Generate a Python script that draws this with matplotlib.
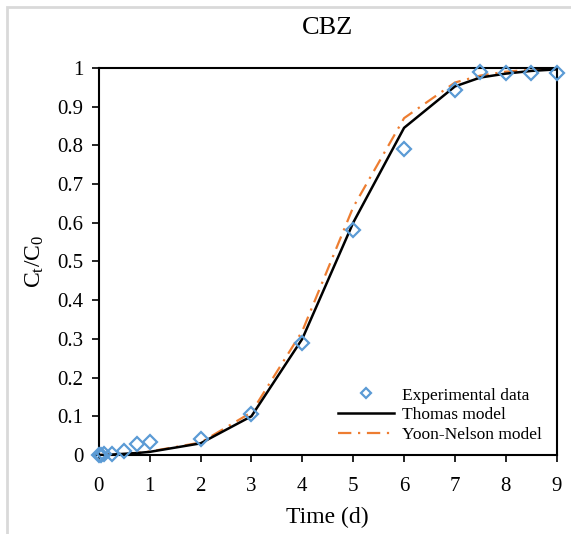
import matplotlib
matplotlib.use("Agg")
import matplotlib.pyplot as plt
from matplotlib.patches import Rectangle

plt.rcParams["font.family"] = ["Liberation Serif", "DejaVu Serif"]
plt.rcParams["mathtext.fontset"] = "custom"
plt.rcParams["mathtext.rm"] = "Liberation Serif"
plt.rcParams["mathtext.it"] = "Liberation Serif:italic"

# time (d)
time = [0, 0.05, 0.1, 0.25, 0.5, 0.75, 1, 2, 3, 4, 5, 6, 7, 7.5, 8, 8.5, 9]
experimental = [0, 0, 0.002, 0.003, 0.01, 0.028, 0.033, 0.04, 0.105, 0.29, 0.582,
                0.79, 0.942, 0.99, 0.987, 0.987, 0.986]
thomas = [0, 0, 0, 0.001, 0.003, 0.005, 0.008, 0.03, 0.10, 0.30, 0.60,
          0.845, 0.952, 0.975, 0.985, 0.992, 0.996]
yoon_nelson = [0, 0, 0, 0.001, 0.003, 0.005, 0.009, 0.032, 0.11, 0.32, 0.64,
               0.87, 0.962, 0.98, 0.99, 0.995, 0.998]
x_ticks = list(range(0, 10))
y_ticks = [0, 0.1, 0.2, 0.3, 0.4, 0.5, 0.6, 0.7, 0.8, 0.9, 1]
y_labels = ["0", "0.1", "0.2", "0.3", "0.4", "0.5", "0.6", "0.7", "0.8", "0.9", "1"]

fig = plt.figure(figsize=(5.71, 5.34), dpi=100)
ax = fig.add_axes([0.173, 0.148, 0.802, 0.725])

# light grey frame (only top/left edges fall inside the image)
fig.patches.append(Rectangle((0.013, -0.05), 1.1, 1.037, transform=fig.transFigure,
                             fill=False, edgecolor="#d9d9d9", linewidth=2))

ax.plot(time, thomas, color="black", linewidth=1.8, label="Thomas model", zorder=3)
ax.plot(time, yoon_nelson, color="#ED7D31", linewidth=1.6, linestyle=(0, (6, 3, 1, 3)),
        label="Yoon-Nelson model", zorder=2)
ax.plot(time, experimental, linestyle="none", marker="D", markersize=7,
        markerfacecolor="none", markeredgecolor="#5B9BD5", markeredgewidth=1.6,
        label="Experimental data", zorder=4, clip_on=False)

ax.set_xlim(0, 9)
ax.set_ylim(0, 1)
ax.set_xticks(x_ticks)
ax.set_yticks(y_ticks)
ax.set_yticklabels(y_labels)
ax.tick_params(direction="out", length=5, width=1.2, labelsize=15, pad=6)
ax.tick_params(axis="x", pad=11)
for s in ax.spines.values():
    s.set_linewidth(1.5)

ax.set_xlabel("Time (d)", fontsize=17, labelpad=8)
ax.set_ylabel(r"$\mathregular{C_t/C_0}$", fontsize=17, labelpad=8)
ax.set_title("CBZ", fontsize=19, pad=24)

handles, labels = ax.get_legend_handles_labels()
order = [2, 0, 1]
ax.legend([handles[i] for i in order], [labels[i] for i in order], loc="lower right",
          frameon=False, fontsize=12.5, handlelength=3.2, labelspacing=0.2,
          handletextpad=0.5, markerscale=0.75, borderaxespad=0.3,
          bbox_to_anchor=(0.995, 0.0))

fig.savefig("out.png", dpi=100)
